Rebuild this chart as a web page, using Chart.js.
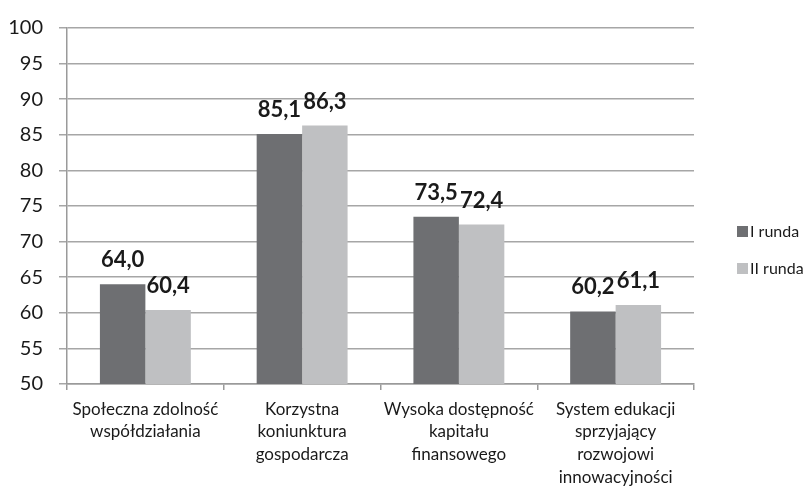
<!DOCTYPE html>
<html>
<head>
<meta charset="utf-8">
<script src="https://cdn.jsdelivr.net/npm/chart.js@4/dist/chart.umd.min.js"></script>
<style>
  html, body { margin: 0; padding: 0; background: #fff; }
  #wrap { width: 804px; height: 488px; }
</style>
</head>
<body>
<div id="wrap"><canvas id="c" width="804" height="488"></canvas></div>
<script>
const categories = [
  ['Społeczna zdolność', 'współdziałania'],
  ['Korzystna', 'koniunktura', 'gospodarcza'],
  ['Wysoka dostępność', 'kapitału', 'finansowego'],
  ['System edukacji', 'sprzyjający', 'rozwojowi', 'innowacyjności']
];
const seriesNames = ['I runda', 'II runda'];
const round1 = [64.0, 85.1, 73.5, 60.2];
const round2 = [60.4, 86.3, 72.4, 61.1];
const yTicks = [50, 55, 60, 65, 70, 75, 80, 85, 90, 95, 100];

const FONT = 'Lato, "Open Sans", sans-serif';
const TEXT = '#1a1a1a';

// Value labels above each bar, Polish decimal comma
const barValueLabels = {
  id: 'barValueLabels',
  afterDatasetsDraw(chart) {
    const ctx = chart.ctx;
    ctx.save();
    ctx.font = 'bold 22px ' + FONT;
    ctx.fillStyle = TEXT;
    ctx.textAlign = 'center';
    ctx.textBaseline = 'alphabetic';
    chart.data.datasets.forEach((ds, i) => {
      chart.getDatasetMeta(i).data.forEach((bar, j) => {
        const txt = ds.data[j].toFixed(1).replace('.', ',');
        ctx.fillText(txt, bar.x, bar.y - 17);
      });
    });
    ctx.restore();
  }
};

// Legend on the right, square swatch + series name
const sideLegend = {
  id: 'sideLegend',
  afterDraw(chart) {
    const ctx = chart.ctx;
    ctx.save();
    ctx.font = '16px ' + FONT;
    ctx.textBaseline = 'middle';
    ctx.textAlign = 'left';
    chart.data.datasets.forEach((ds, i) => {
      const y = 231 + i * 37;
      ctx.fillStyle = ds.backgroundColor;
      ctx.fillRect(737, y - 5, 11, 11);
      ctx.fillStyle = TEXT;
      ctx.fillText(ds.label, 750, y + 1);
    });
    ctx.restore();
  }
};

new Chart(document.getElementById('c'), {
  type: 'bar',
  data: {
    labels: categories,
    datasets: [
      { label: seriesNames[0], data: round1, backgroundColor: '#6e6f72' },
      { label: seriesNames[1], data: round2, backgroundColor: '#bfc0c2' }
    ]
  },
  options: {
    responsive: false,
    animation: false,
    layout: { padding: { top: 10, right: 110, left: 0, bottom: 0 } },
    datasets: { bar: { categoryPercentage: 0.58, barPercentage: 1.0 } },
    scales: {
      x: {
        afterFit(axis) { axis.height = 104; },
        grid: { offset: true, drawOnChartArea: false, color: '#9a9a9a', tickLength: 6, lineWidth: 1.5 },
        border: { color: '#9a9a9a', width: 1.5 },
        ticks: { color: TEXT, font: { family: FONT, size: 17, lineHeight: 1.33 }, maxRotation: 0, autoSkip: false, padding: 8 }
      },
      y: {
        min: 50, max: 100,
        afterBuildTicks(axis) { axis.ticks = yTicks.map(v => ({ value: v })); },
        afterFit(axis) { axis.width = 67; },
        grid: { color: '#a6a6a6', lineWidth: 1.5, tickLength: 8 },
        border: { color: '#9a9a9a', width: 1.5 },
        ticks: { color: TEXT, font: { family: FONT, size: 20 }, padding: 16 }
      }
    },
    plugins: {
      legend: { display: false },
      tooltip: { enabled: false }
    }
  },
  plugins: [barValueLabels, sideLegend]
});
</script>
</body>
</html>
